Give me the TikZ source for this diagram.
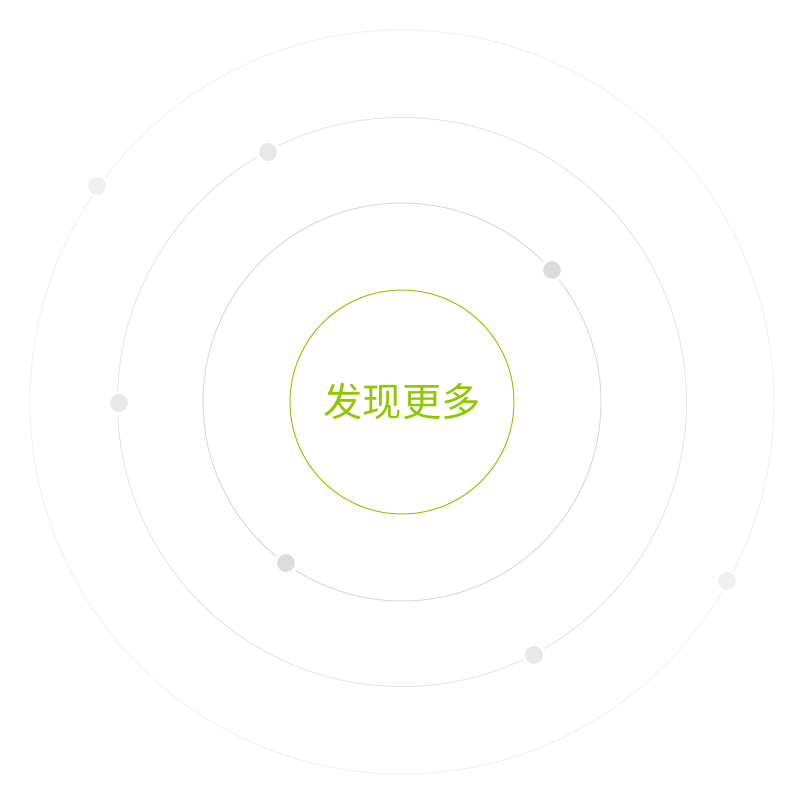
\documentclass[tikz,border=0pt]{standalone}
\usepackage{fontspec}
\newfontfamily\cjk{Noto Sans CJK SC}
\definecolor{grn}{HTML}{8FC800}
\definecolor{ring2}{HTML}{DADADA}
\definecolor{ring3}{HTML}{E6E6E6}
\definecolor{ring4}{HTML}{F1F1F1}
\definecolor{dot2}{HTML}{DCDCDC}
\definecolor{dot3}{HTML}{E8E8E8}
\definecolor{dot4}{HTML}{F0F0F0}
\begin{document}
\begin{tikzpicture}[x=0.75pt,y=-0.75pt,
  ring/.style={line width=0.75pt},
  planet/.style={circle,minimum size=21*0.75pt,inner sep=0pt,draw=white,line width=2.25pt}]
\useasboundingbox (0,0) rectangle (800,800);
\coordinate (c) at (402,402);
\draw[ring,ring4] (c) circle[radius=372*0.75pt];
\draw[ring,ring3] (c) circle[radius=284.5*0.75pt];
\draw[ring,ring2] (c) circle[radius=199*0.75pt];
\draw[ring,grn] (c) circle[radius=112*0.75pt];
\node[planet,fill=dot2] (p1) at (552,270) {};
\node[planet,fill=dot2] (p2) at (286,563) {};
\node[planet,fill=dot3] (p3) at (268,152) {};
\node[planet,fill=dot3] (p4) at (119,403) {};
\node[planet,fill=dot3] (p5) at (534,655) {};
\node[planet,fill=dot4] (p6) at (97,186) {};
\node[planet,fill=dot4] (p7) at (727,581) {};
\node[text=grn,font=\cjk\fontsize{29.5pt}{35pt}\selectfont] (t) at (402,402) {发现更多};
\end{tikzpicture}
\end{document}
